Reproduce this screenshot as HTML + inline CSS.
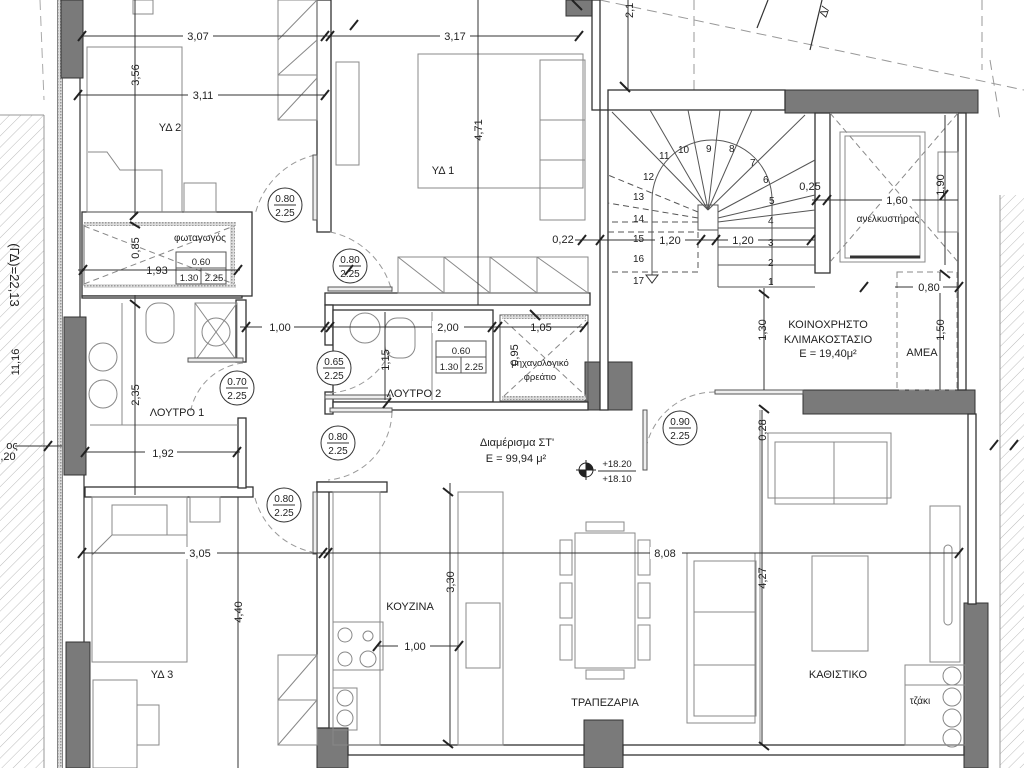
<!DOCTYPE html>
<html><head><meta charset="utf-8"><style>
html,body{margin:0;padding:0;background:#fff}
svg{display:block}
text{font-family:"Liberation Sans",sans-serif;fill:#222}
</style></head><body>
<svg width="1024" height="768" viewBox="0 0 1024 768" xmlns="http://www.w3.org/2000/svg">
<defs>
<pattern id="h" width="8" height="8" patternUnits="userSpaceOnUse" patternTransform="rotate(45)">
<line x1="0" y1="0" x2="0" y2="8" stroke="#bbb" stroke-width="1"/></pattern>
<pattern id="ins" width="3" height="3" patternUnits="userSpaceOnUse"><rect width="3" height="3" fill="#ddd"/><rect width="1.5" height="1.5" fill="#999"/></pattern>
</defs>
<rect width="1024" height="768" fill="#fff"/>
<!-- hatched neighbour strips -->
<rect x="0" y="115" width="44" height="653" fill="url(#h)"/>
<line x1="44" y1="115" x2="44" y2="768" stroke="#999"/>
<line x1="0" y1="115" x2="44" y2="115" stroke="#999"/>
<rect x="1000" y="195" width="24" height="573" fill="url(#h)"/>
<line x1="1000" y1="195" x2="1000" y2="768" stroke="#999"/>
<line x1="40" y1="0" x2="44" y2="100" stroke="#aaa" stroke-dasharray="10,6"/>

<!-- top right dashed -->
<g stroke="#999" stroke-dasharray="10,6" fill="none">
<line x1="694" y1="0" x2="694" y2="90"/>
<line x1="600" y1="0" x2="1024" y2="90"/>
<line x1="982" y1="0" x2="982" y2="70"/>
<line x1="990" y1="60" x2="1000" y2="120"/>
</g>
<g stroke="#333" stroke-width="1.2">
<line x1="768" y1="0" x2="757" y2="28"/>
<line x1="822" y1="0" x2="810" y2="50"/>
</g>
<text x="826" y="18" font-size="11" transform="rotate(-70 826 18)">Δ/</text>
<text x="633" y="18" font-size="11" transform="rotate(-90 633 18)">2,1</text>
<line x1="628" y1="0" x2="628" y2="90" stroke="#333"/>

<!-- Left exterior wall -->
<g fill="none" stroke="#333" stroke-width="1.2">
<line x1="58" y1="0" x2="58" y2="768"/>
<line x1="62" y1="0" x2="62" y2="768"/>
<line x1="80" y1="78" x2="80" y2="317"/>
<line x1="84" y1="475" x2="84" y2="642"/>
</g>
<rect x="58" y="0" width="4" height="768" fill="url(#ins)"/>
<rect x="61" y="0" width="22" height="78" fill="#7a7a7a" stroke="#333"/>
<rect x="64" y="317" width="22" height="158" fill="#7a7a7a" stroke="#333"/>
<rect x="66" y="642" width="24" height="126" fill="#7a7a7a" stroke="#333"/>

<!-- Dark pillars / walls -->
<g fill="#7a7a7a" stroke="#333">
<rect x="566" y="0" width="26" height="16"/>
<rect x="785" y="90" width="193" height="23"/>
<rect x="585" y="362" width="47" height="48"/>
<rect x="803" y="390" width="172" height="24"/>
<rect x="964" y="603" width="24" height="165"/>
<rect x="584" y="720" width="39" height="48"/>
<rect x="317" y="728" width="31" height="40"/>
</g>

<!-- interior walls -->
<g fill="#fff" stroke="#333" stroke-width="1.3">
<rect x="317" y="0" width="14" height="232"/>
<rect x="82" y="212" width="170" height="84"/>
<rect x="82" y="296" width="160" height="2"/>
<rect x="236" y="300" width="10" height="62"/>
<rect x="325" y="293" width="265" height="12"/>
<rect x="325" y="305" width="8" height="40"/>
<rect x="333" y="310" width="160" height="92"/>
<rect x="325" y="392" width="8" height="22"/>
<rect x="333" y="402" width="255" height="8"/>
<rect x="85" y="487" width="168" height="10"/>
<rect x="238" y="418" width="8" height="70"/>
<rect x="317" y="482" width="12" height="246"/>
<rect x="317" y="482" width="70" height="10"/>
<rect x="592" y="0" width="8" height="110"/>
<rect x="600" y="110" width="8" height="300"/>
<rect x="608" y="90" width="177" height="20"/>
<rect x="815" y="113" width="15" height="160"/>
<rect x="958" y="113" width="8" height="277"/>
<rect x="968" y="414" width="8" height="190"/>
<rect x="348" y="745" width="236" height="10"/>
<rect x="623" y="745" width="341" height="10"/>
</g>
<rect x="84" y="225" width="150" height="60" fill="none" stroke="#666"/>
<rect x="84" y="222" width="152" height="4" fill="url(#ins)"/>
<rect x="84" y="284" width="152" height="4" fill="url(#ins)"/>
<rect x="230" y="222" width="5" height="66" fill="url(#ins)"/>
<rect x="500" y="315" width="88" height="86" fill="none" stroke="#555"/>
<rect x="502" y="315" width="84" height="4" fill="url(#ins)"/>
<rect x="502" y="396" width="84" height="4" fill="url(#ins)"/>
<line x1="84" y1="226" x2="234" y2="284" stroke="#888" stroke-dasharray="6,4"/>
<line x1="84" y1="284" x2="234" y2="226" stroke="#888" stroke-dasharray="6,4"/>
<line x1="504" y1="320" x2="586" y2="396" stroke="#888" stroke-dasharray="6,4"/>
<line x1="504" y1="396" x2="586" y2="320" stroke="#888" stroke-dasharray="6,4"/>

<!-- wardrobes -->
<g fill="none" stroke="#888">
<rect x="278" y="0" width="39" height="120"/>
<line x1="278" y1="75" x2="317" y2="75"/>
<line x1="278" y1="40" x2="317" y2="0"/><line x1="278" y1="75" x2="317" y2="40"/><line x1="278" y1="120" x2="317" y2="78"/>
<rect x="398" y="257" width="190" height="36"/>
<line x1="444" y1="257" x2="444" y2="293"/><line x1="490" y1="257" x2="490" y2="293"/><line x1="537" y1="257" x2="537" y2="293"/>
<line x1="398" y1="257" x2="444" y2="293"/><line x1="444" y1="257" x2="490" y2="293"/><line x1="490" y1="257" x2="537" y2="293"/><line x1="537" y1="257" x2="588" y2="293"/>
<rect x="278" y="655" width="39" height="90"/>
<line x1="278" y1="700" x2="317" y2="700"/><line x1="278" y1="700" x2="317" y2="655"/><line x1="278" y1="745" x2="317" y2="700"/>
<!-- furniture ΥΔ2 -->
<rect x="87" y="47" width="95" height="165"/>
<path d="M88 152 H107 L120 170 H162 V212"/>
<rect x="184" y="183" width="32" height="29"/>
<rect x="133" y="0" width="20" height="14"/>
<!-- ΥΔ1 -->
<rect x="418" y="54" width="165" height="134"/>
<rect x="540" y="60" width="45" height="160"/>
<line x1="540" y1="120" x2="585" y2="120"/><line x1="540" y1="160" x2="585" y2="160"/>
<rect x="336" y="62" width="23" height="103"/>
<!-- bath1 -->
<rect x="195" y="303" width="42" height="58"/>
<line x1="195" y1="303" x2="237" y2="361"/><line x1="237" y1="303" x2="195" y2="361"/>
<circle cx="216" cy="332" r="14"/>
<rect x="146" y="303" width="28" height="40" rx="12"/>
<circle cx="103" cy="357" r="14"/><circle cx="103" cy="394" r="14"/>
<line x1="90" y1="425" x2="238" y2="425"/>
<line x1="122" y1="303" x2="122" y2="425"/>
<!-- bath2 -->
<circle cx="365" cy="328" r="15"/>
<rect x="385" y="318" width="30" height="40" rx="12"/>
<line x1="432" y1="312" x2="432" y2="400"/>
<!-- ΥΔ3 -->
<rect x="92" y="497" width="95" height="165"/>
<rect x="112" y="505" width="55" height="30"/>
<path d="M92 555 L112 535 H187"/>
<rect x="190" y="497" width="30" height="25"/>
<rect x="93" y="680" width="44" height="88"/>
<rect x="137" y="705" width="22" height="40"/>
<!-- kitchen -->
<rect x="333" y="492" width="47" height="253"/>
<rect x="333" y="622" width="50" height="48"/>
<circle cx="345" cy="635" r="7"/><circle cx="368" cy="636" r="5"/><circle cx="345" cy="659" r="7"/><circle cx="368" cy="659" r="8"/>
<rect x="333" y="688" width="24" height="42"/>
<circle cx="345" cy="698" r="8"/><circle cx="345" cy="718" r="8"/>
<rect x="458" y="492" width="45" height="253"/>
<rect x="466" y="603" width="34" height="65"/>
<!-- dining -->
<rect x="575" y="533" width="60" height="135"/>
<g><rect x="560" y="540" width="12" height="35"/><rect x="560" y="583" width="12" height="35"/><rect x="560" y="625" width="12" height="35"/>
<rect x="638" y="540" width="12" height="35"/><rect x="638" y="583" width="12" height="35"/><rect x="638" y="625" width="12" height="35"/>
<rect x="586" y="522" width="38" height="9"/><rect x="586" y="670" width="38" height="9"/></g>
<!-- living -->
<rect x="687" y="553" width="68" height="170"/><rect x="694" y="561" width="62" height="155"/>
<line x1="694" y1="612" x2="756" y2="612"/><line x1="694" y1="665" x2="756" y2="665"/>
<rect x="768" y="433" width="123" height="65"/><rect x="775" y="442" width="112" height="62"/>
<line x1="834" y1="442" x2="834" y2="504"/>
<rect x="812" y="556" width="56" height="95"/>
<rect x="930" y="506" width="30" height="156"/>
<rect x="944" y="545" width="8" height="80" rx="4"/>
<rect x="905" y="665" width="60" height="20"/>
<rect x="905" y="685" width="60" height="60"/>
<circle cx="952" cy="676" r="9"/><circle cx="952" cy="697" r="9"/><circle cx="952" cy="718" r="9"/><circle cx="952" cy="738" r="9"/>
<line x1="760" y1="410" x2="760" y2="745"/>
<!-- lift -->
<rect x="840" y="132" width="85" height="130"/><rect x="845" y="136" width="75" height="122"/>
<line x1="830" y1="113" x2="958" y2="262" stroke-dasharray="6,4"/><line x1="958" y1="113" x2="830" y2="262" stroke-dasharray="6,4"/>
<rect x="938" y="152" width="20" height="80"/>
<rect x="897" y="272" width="60" height="118" stroke-dasharray="6,4"/>
</g>
<line x1="850" y1="257" x2="920" y2="257" stroke="#333" stroke-width="3"/>

<!-- stairs -->
<g fill="none" stroke="#555" stroke-width="1">
<rect x="608" y="110" width="207" height="190" stroke="none"/>
<path d="M652 275 V200 A40 40 0 0 1 772 200 V285"/>
<rect x="698" y="205" width="20" height="25"/>
<line x1="718" y1="228" x2="815" y2="228"/><line x1="718" y1="247" x2="815" y2="247"/><line x1="718" y1="265" x2="815" y2="265"/><line x1="718" y1="287" x2="815" y2="287"/>
<line x1="718" y1="287" x2="718" y2="228"/>
<g>
<line x1="708" y1="210" x2="612" y2="112"/><line x1="708" y1="210" x2="650" y2="110"/>
<line x1="708" y1="210" x2="688" y2="110"/><line x1="708" y1="210" x2="720" y2="110"/>
<line x1="708" y1="210" x2="752" y2="110"/><line x1="708" y1="210" x2="805" y2="115"/>
<line x1="718" y1="212" x2="815" y2="160"/><line x1="718" y1="218" x2="815" y2="195"/>
<line x1="718" y1="222" x2="815" y2="210"/>
</g>
<g stroke-dasharray="6,4"><line x1="698" y1="212" x2="608" y2="175"/><line x1="698" y1="218" x2="608" y2="203"/><line x1="698" y1="222" x2="608" y2="222"/>
<path d="M608 232 H698 V272 H608"/></g>
</g>
<path d="M646 275 L658 275 L652 283 Z" fill="none" stroke="#333"/>
<g font-size="10">
<text x="659" y="159">11</text><text x="678" y="153">10</text><text x="706" y="152">9</text><text x="729" y="152">8</text><text x="750" y="166">7</text><text x="763" y="183">6</text><text x="769" y="204">5</text><text x="768" y="224">4</text><text x="768" y="246">3</text><text x="768" y="266">2</text><text x="768" y="285">1</text>
<text x="643" y="180">12</text><text x="633" y="200">13</text><text x="633" y="222">14</text><text x="633" y="242">15</text><text x="633" y="262">16</text><text x="633" y="284">17</text>
</g>

<!-- door arcs -->
<g fill="none" stroke="#999" stroke-dasharray="6,4">
<path d="M315 155 A80 80 0 0 0 255 215"/>
<path d="M330 232 A80 80 0 0 1 392 292"/>
<path d="M390 352 A70 70 0 0 1 328 393"/>
<path d="M243 363 A60 60 0 0 0 190 415"/>
<path d="M392 412 A70 70 0 0 1 328 480"/>
<path d="M255 498 A75 75 0 0 0 312 552"/>
<path d="M715 392 A70 70 0 0 0 645 470"/>
</g>
<g fill="#eee" stroke="#555"><rect x="313" y="155" width="4" height="65"/><rect x="328" y="287" width="64" height="4"/><rect x="325" y="395" width="65" height="4"/><rect x="188" y="358" width="55" height="4"/><rect x="330" y="408" width="62" height="4"/><rect x="313" y="492" width="4" height="62"/><rect x="643" y="410" width="4" height="60"/><rect x="715" y="390" width="88" height="4"/></g>

<!-- door tags -->
<g font-size="10" text-anchor="middle">
<g transform="translate(285,205)"><circle r="17" fill="#fff" stroke="#333"/><line x1="-11" y1="0" x2="11" y2="0" stroke="#333"/><text y="-3">0.80</text><text y="11">2.25</text></g>
<g transform="translate(350,266)"><circle r="17" fill="#fff" stroke="#333"/><line x1="-11" y1="0" x2="11" y2="0" stroke="#333"/><text y="-3">0.80</text><text y="11">2.25</text></g>
<g transform="translate(334,368)"><circle r="17" fill="#fff" stroke="#333"/><line x1="-11" y1="0" x2="11" y2="0" stroke="#333"/><text y="-3">0.65</text><text y="11">2.25</text></g>
<g transform="translate(237,388)"><circle r="17" fill="#fff" stroke="#333"/><line x1="-11" y1="0" x2="11" y2="0" stroke="#333"/><text y="-3">0.70</text><text y="11">2.25</text></g>
<g transform="translate(338,443)"><circle r="17" fill="#fff" stroke="#333"/><line x1="-11" y1="0" x2="11" y2="0" stroke="#333"/><text y="-3">0.80</text><text y="11">2.25</text></g>
<g transform="translate(284,505)"><circle r="17" fill="#fff" stroke="#333"/><line x1="-11" y1="0" x2="11" y2="0" stroke="#333"/><text y="-3">0.80</text><text y="11">2.25</text></g>
<g transform="translate(680,428)"><circle r="17" fill="#fff" stroke="#333"/><line x1="-11" y1="0" x2="11" y2="0" stroke="#333"/><text y="-3">0.90</text><text y="11">2.25</text></g>
</g>

<!-- window tags -->
<g fill="none" stroke="#555"><rect x="176" y="252" width="50" height="32"/><line x1="176" y1="268" x2="226" y2="268"/><line x1="201" y1="268" x2="201" y2="284"/>
<rect x="436" y="341" width="50" height="32"/><line x1="436" y1="357" x2="486" y2="357"/><line x1="461" y1="357" x2="461" y2="373"/></g>
<g font-size="9.5" text-anchor="middle"><text x="201" y="265">0.60</text><text x="189" y="281">1.30</text><text x="214" y="281">2.25</text>
<text x="461" y="354">0.60</text><text x="449" y="370">1.30</text><text x="474" y="370">2.25</text></g>

<!-- dimension lines -->
<g stroke="#333" stroke-width="1" fill="none">
<line x1="83" y1="36" x2="580" y2="36"/>
<line x1="78" y1="95" x2="325" y2="95"/>
<line x1="135" y1="0" x2="135" y2="215"/>
<line x1="478" y1="0" x2="478" y2="305"/>
<line x1="78" y1="270" x2="240" y2="270"/>
<line x1="240" y1="327" x2="585" y2="327"/>
<line x1="500" y1="327" x2="583" y2="327"/>
<line x1="135" y1="295" x2="135" y2="495"/>
<line x1="85" y1="452" x2="240" y2="452"/>
<line x1="15" y1="446" x2="62" y2="446"/>
<line x1="82" y1="553" x2="960" y2="553"/>
<line x1="238" y1="497" x2="238" y2="768"/>
<line x1="450" y1="483" x2="450" y2="745"/>
<line x1="378" y1="646" x2="460" y2="646"/>
<line x1="385" y1="312" x2="385" y2="400"/>
<line x1="575" y1="240" x2="815" y2="240"/>
<line x1="812" y1="200" x2="958" y2="200"/>
<line x1="895" y1="287" x2="960" y2="287"/>
<line x1="945" y1="115" x2="945" y2="265"/>
<line x1="940" y1="272" x2="940" y2="390"/>
<line x1="764" y1="288" x2="764" y2="390"/>
<line x1="762" y1="410" x2="762" y2="745"/>
<line x1="118" y1="0" x2="118" y2="0"/>
</g>
<g stroke="#222" stroke-width="2">
<path d="M78 41l8-10M321 41l8-10M326 41l8-10M575 41l8-10M74 100l8-10M321 100l8-10M130 220l8-8M130 222l10 6M130 300l10 8M79 275l8-10M234 275l8-10M242 332l8-10M321 332l8-10M326 332l8-10M488 332l8-10M494 332l8-10M580 332l8-10M81 457l8-10M233 457l8-10M44 451l8-10M78 558l8-10M319 558l8-10M324 558l8-10M955 558l8-10M443 488l10 8M443 740l10 8M373 651l8-10M455 651l8-10M578 245l8-10M596 245l8-10M697 245l8-10M712 245l8-10M807 245l8-10M812 205l8-10M823 205l8-10M860 292l8-10M955 292l8-10M940 270l10 8M940 200l8-10M759 290l10 8M759 405l10 8M759 742l10 8M990 450l8-10M1010 450l8-10M350 30l8-10M345 275l8-10M383 408l8-10M530 310l10 10M572 0l10 10M620 82l10 10"/>
</g>

<!-- elevation marker -->
<circle cx="586" cy="470" r="7" fill="#fff" stroke="#222"/>
<path d="M586 463 A7 7 0 0 1 593 470 H586Z M586 477 A7 7 0 0 1 579 470 H586Z" fill="#222"/>
<line x1="576" y1="470" x2="596" y2="470" stroke="#222"/><line x1="586" y1="460" x2="586" y2="480" stroke="#222"/>
<line x1="598" y1="471" x2="636" y2="471" stroke="#333"/>

<!-- labels -->
<g font-size="11" text-anchor="middle">
<rect x="183" y="30" width="30" height="12" fill="#fff"/><text x="198" y="40">3,07</text>
<rect x="440" y="30" width="30" height="12" fill="#fff"/><text x="455" y="40">3,17</text>
<rect x="188" y="89" width="30" height="12" fill="#fff"/><text x="203" y="99">3,11</text>
<text x="170" y="131">ΥΔ 2</text>
<text x="443" y="174">ΥΔ 1</text>
<text x="200" y="241" font-size="10">φωταγωγός</text>
<text x="157" y="274">1,93</text>
<rect x="262" y="321" width="32" height="12" fill="#fff"/><text x="280" y="331">1,00</text>
<rect x="432" y="321" width="32" height="12" fill="#fff"/><text x="448" y="331">2,00</text>
<text x="541" y="331">1,05</text>
<text x="414" y="397">ΛΟΥΤΡΟ 2</text>
<text x="540" y="366" font-size="9.5">μηχανολογικό</text>
<text x="540" y="380" font-size="9.5">φρεάτιο</text>
<text x="177" y="416">ΛΟΥΤΡΟ 1</text>
<rect x="145" y="446" width="32" height="12" fill="#fff"/><text x="163" y="457">1,92</text>
<rect x="185" y="547" width="32" height="12" fill="#fff"/><text x="200" y="557">3,05</text>
<rect x="650" y="547" width="32" height="12" fill="#fff"/><text x="665" y="557">8,08</text>
<text x="517" y="446">Διαμέρισμα ΣΤ'</text>
<text x="516" y="462">Ε = 99,94 μ²</text>
<text x="617" y="467" font-size="9.5">+18.20</text>
<text x="617" y="482" font-size="9.5">+18.10</text>
<text x="410" y="610">ΚΟΥΖΙΝΑ</text>
<rect x="398" y="640" width="32" height="12" fill="#fff"/><text x="415" y="650">1,00</text>
<text x="162" y="678">ΥΔ 3</text>
<text x="605" y="706">ΤΡΑΠΕΖΑΡΙΑ</text>
<text x="838" y="678">ΚΑΘΙΣΤΙΚΟ</text>
<text x="920" y="704" font-size="10">τζάκι</text>
<text x="563" y="243">0,22</text>
<rect x="655" y="234" width="30" height="12" fill="#fff"/><text x="670" y="244">1,20</text>
<rect x="728" y="234" width="30" height="12" fill="#fff"/><text x="743" y="244">1,20</text>
<text x="810" y="190">0,25</text>
<rect x="882" y="194" width="30" height="12" fill="#fff"/><text x="897" y="204">1,60</text>
<text x="888" y="222" font-size="10">ανελκυστήρας</text>
<rect x="913" y="281" width="30" height="12" fill="#fff"/><text x="929" y="291">0,80</text>
<text x="828" y="328">ΚΟΙΝΟΧΡΗΣΤΟ</text>
<text x="828" y="343">ΚΛΙΜΑΚΟΣΤΑΣΙΟ</text>
<text x="828" y="357">Ε = 19,40μ²</text>
<text x="922" y="356">ΑΜΕΑ</text>
<text x="12" y="449">ος</text>
<text x="8" y="460">,20</text>
</g>
<g font-size="11" text-anchor="middle">
<text transform="translate(139,75) rotate(-90)">3,56</text>
<text transform="translate(482,130) rotate(-90)">4,71</text>
<text transform="translate(139,248) rotate(-90)">0,85</text>
<text transform="translate(139,395) rotate(-90)">2,35</text>
<text transform="translate(242,612) rotate(-90)">4,40</text>
<text transform="translate(454,582) rotate(-90)">3,30</text>
<text transform="translate(389,360) rotate(-90)">1,15</text>
<text transform="translate(518,355) rotate(-90)">0,95</text>
<text transform="translate(766,330) rotate(-90)">1,30</text>
<text transform="translate(766,430) rotate(-90)">0,28</text>
<text transform="translate(766,578) rotate(-90)">4,27</text>
<text transform="translate(944,185) rotate(-90)">1,90</text>
<text transform="translate(944,330) rotate(-90)">1,50</text>
<text transform="translate(19,362) rotate(-90)">11,16</text>
<text transform="translate(10,275) rotate(90)" font-size="13">(ΓΔ)=22,13</text>
</g>
</svg>
</body></html>
